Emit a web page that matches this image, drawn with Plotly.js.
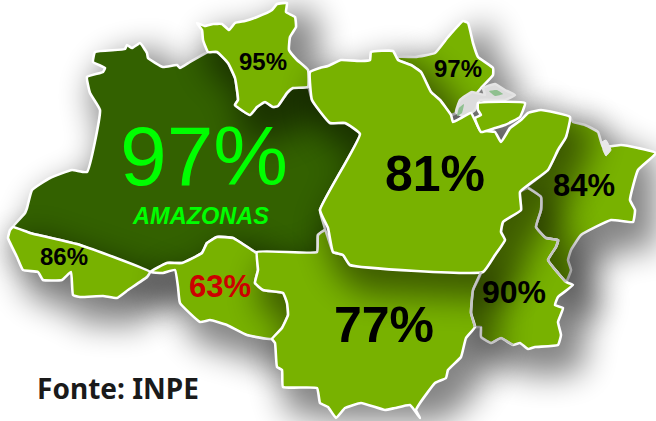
<!DOCTYPE html>
<html>
<head>
<meta charset="utf-8">
<script src="https://cdn.plot.ly/plotly-3.0.1.min.js"></script>
<style>html,body{margin:0;padding:0;background:#fff}#c{width:656px;height:421px}</style>
</head>
<body>
<div id="c"></div>
<script>
// State outlines as x,y pairs
const amazonas = [95,52,125,49,127,45,132,48,140,43,147,53,148,58,163,67,177,65,180,68,190,62,208,52,217,52,228,63,235,78,238,100,235,105,250,115,257,107,265,102,273,107,278,106,287,93,293,88,308,87,312,100,330,123,345,123,360,134,320,210,325,230,318,235,317,252,255,252,233,238,217,237,207,243,202,253,182,263,167,263,150,272,80,245,30,233,13,227,25,213,27,208,32,190,50,178,72,170,87,172,100,110,90,93,87,77,103,72,105,68,93,62];
const roraima = [197,23,205,26,213,24,222,24,229,30,235,23,245,21,257,17,272,10,277,4,287,3,286,12,295,17,296,27,290,37,289,50,297,60,308,70,308,87,293,88,287,93,278,106,273,107,265,102,257,107,250,115,235,105,238,100,235,78,228,63,217,52,208,52,203,40,202,30];
const acre = [13,227,30,233,80,245,150,272,147,277,128,290,117,298,103,296,80,297,73,295,71,272,62,280,43,280,38,272,23,270,17,257,8,238,10,230];
const rondonia = [150,272,167,263,182,263,202,253,207,243,217,237,233,238,255,252,257,253,258,270,255,283,263,290,283,293,287,303,288,315,282,328,272,339,247,335,227,325,210,320,200,322,180,303,178,287,175,270,163,273];
const matoGrosso = [257,252,317,252,318,235,325,230,333,252,343,255,350,265,481,272,473,290,471,313,475,327,466,338,461,357,448,370,446,378,435,383,420,403,416,410,420,418,410,405,395,408,385,410,361,403,345,408,336,418,328,407,320,403,317,388,283,387,282,370,277,367,275,343,272,339,282,328,288,315,287,303,283,293,263,290,255,283,258,270];
const para = [328,66,341,60,361,61,370,60,371,52,393,51,398,60,411,65,421,72,431,92,440,100,451,115,453,122,461,118,471,113,480,130,495,132,501,142,510,128,521,120,528,113,541,110,570,117,566,137,558,150,548,170,520,192,521,210,503,222,501,232,505,240,495,255,483,272,350,265,343,255,333,252,328,228,320,210,360,134,345,123,330,123,312,100,310,72,320,68];
const marajo = [478,103,525,103,520,117,505,125,495,128,481,132,475,118,481,115,478,110];
const amapa = [398,57,415,57,435,53,448,37,463,21,468,23,473,43,478,57,493,68,493,75,481,88,475,95,460,105,456,113,451,115,440,100,431,92,421,72,411,65,398,60];
const maranhao = [573,122,585,125,598,132,603,147,621,145,638,148,656,153,638,170,630,200,635,210,633,222,611,220,581,235,571,250,568,260,571,270,566,282,558,273,548,260,556,247,558,240,546,238,536,227,541,210,541,197,528,188,520,192,548,170,558,150,566,137,570,117];
const tocantins = [520,192,528,188,541,197,541,210,536,227,546,238,558,240,556,247,548,260,558,273,566,282,573,285,558,297,555,305,563,308,558,322,561,335,558,345,535,347,528,349,520,343,513,345,501,338,491,343,481,337,481,327,475,327,471,313,473,290,481,273,495,255,505,240,501,232,503,222,521,210];
const estuary = [456,112,460,100,472,92,485,95,483,88,495,84,505,90,515,95,505,100,480,100,475,110,465,117];
const estuaryGreen = [489,91,497,90,503,94,495,96];
const estuaryGreen2 = [459,108,464,104,462,113,457,116];
const delta = [602,142,606,140,611,150,606,156,603,150];
const tocantinsBorder = [528,188,541,197,541,210,536,227,546,238,558,240,556,247,548,260,558,273,566,282];
const mtBorder = [481,272,473,290,471,313,475,327];
const tocantinsSouth = [481,327,481,337,491,343,501,338,513,345];

const labels = ['97%','AMAZONAS','95%','97%','81%','84%','86%','63%','77%','90%','Fonte: INPE'];
const labelX = [204,201,263,458,435,584,64,220,384,514,118];
const labelY = [164,218,64,71,178,188,259,289,329,295,392];
const labelSize = [84,23.5,24,24,50,31,24,31,50,32,28];
const labelColor = ['#00ff00','#00ff00','#000','#000','#000','#000','#000','#cc0000','#000','#000','#1a1a1a'];

const GREEN = '#78b200', DARK = '#336100';
const xs = p => { const o = p.filter((v,i)=>i%2===0); o.push(p[0]); return o; };
const ys = p => { const o = p.filter((v,i)=>i%2===1); o.push(p[1]); return o; };
const traces = [], shadowIdx = [];
function shadow(p){
  shadowIdx.push(traces.length);
  traces.push({type:'scatter',mode:'lines',x:xs(p).map(v=>v+14),y:ys(p).map(v=>v+17),fill:'toself',
    fillcolor:'#000',line:{color:'#000',width:22},opacity:0.48,hoverinfo:'skip',showlegend:false});
}
function state(p,color,lw,lc){
  traces.push({type:'scatter',mode:'lines',x:xs(p),y:ys(p),fill:'toself',fillcolor:color,
    line:{color:lc||'#fff',width:lw===undefined?2.6:lw,shape:'spline',smoothing:0.35},hoverinfo:'skip',showlegend:false});
}
function line(p,c,w){
  traces.push({type:'scatter',mode:'lines',x:p.filter((v,i)=>i%2===0),y:p.filter((v,i)=>i%2===1),
    line:{color:c,width:w,shape:'spline',smoothing:0.35},hoverinfo:'skip',showlegend:false});
}
[[amazonas,DARK],[acre,GREEN],[rondonia,GREEN],[amapa,GREEN],[maranhao,GREEN],[tocantins,GREEN],[matoGrosso,GREEN],[roraima,GREEN]].forEach(s=>{shadow(s[0]);state(s[0],s[1]);});
shadow(marajo);
shadow(para);
state(estuary,'#dcdcdc',2.5,'#e4e4e4');
state(estuaryGreen,'#8fc08f',0);
state(estuaryGreen2,'#8fc08f',0);
state(para,GREEN);
state(marajo,GREEN);
state(delta,'#e8e8e8',1,'#eee');
line(tocantinsBorder,'#c4c4c4',2.4);
line(mtBorder,'#c4c4c4',2.4);
line(tocantinsSouth,'#c4c4c4',2.2);

labels.forEach((t,i)=>{
  const amz = t==='AMAZONAS', fonte = t==='Fonte: INPE', big = i===0;
  traces.push({type:'scatter',mode:'text',x:[labelX[i]],y:[labelY[i]],text:[amz?'<b><i>'+t+'</i></b>':(big?t:'<b>'+t+'</b>')],
    textposition:'middle center',cliponaxis:false,
    textfont:{family:fonte?'"Noto Sans"':'"Liberation Sans", Arial, sans-serif',size:labelSize[i],color:labelColor[i]},
    hoverinfo:'skip',showlegend:false});
});

Plotly.newPlot('c',traces,{
  width:656,height:421,margin:{l:0,r:0,t:0,b:0},
  paper_bgcolor:'#fff',plot_bgcolor:'#fff',showlegend:false,hovermode:false,
  xaxis:{range:[0,656],visible:false,fixedrange:true},
  yaxis:{range:[421,0],visible:false,fixedrange:true}
},{displayModeBar:false,staticPlot:true}).then(()=>{
  const groups = document.querySelectorAll('#c .scatterlayer .trace');
  shadowIdx.forEach(i=>{ if(groups[i]) groups[i].style.filter='blur(16px)'; });
});
</script>
</body>
</html>
